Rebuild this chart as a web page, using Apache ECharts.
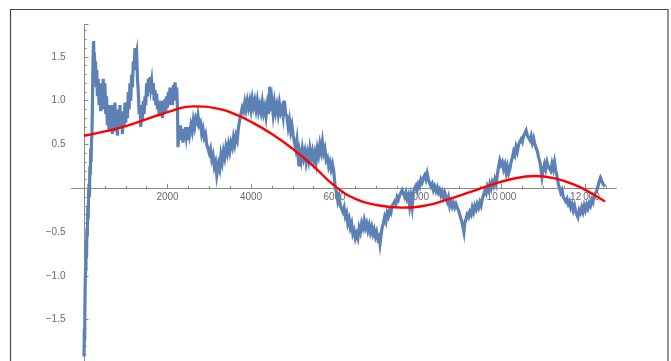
<!DOCTYPE html>
<html>
<head>
<meta charset="utf-8">
<title>fit</title>
<script src="https://cdn.jsdelivr.net/npm/echarts@6/dist/echarts.min.js"></script>
<style>
  html, body { margin: 0; padding: 0; background: #fff; }
  #chart { width: 671px; height: 361px; }
</style>
</head>
<body>
<div id="chart"></div>
<script>
// measured data (blue points)
var blueX = [0, 8, 15, 22, 30, 38, 45, 52, 60, 70, 80, 90, 100, 110, 120, 130, 140, 150, 160, 170, 180, 190, 200, 210, 220, 230, 240, 250, 260, 275, 290, 305, 320, 340, 360, 380, 400, 420, 440, 460, 480, 500, 520, 540, 560, 580, 600, 620, 640, 660, 680, 700, 720, 740, 760, 780, 800, 820, 840, 860, 880, 900, 920, 940, 960, 980, 1000, 1020, 1040, 1060, 1080, 1100, 1120, 1140, 1160, 1180, 1200, 1220, 1240, 1260, 1280, 1300, 1320, 1340, 1360, 1380, 1400, 1420, 1440, 1460, 1480, 1500, 1520, 1540, 1560, 1580, 1600, 1620, 1640, 1660, 1680, 1700, 1720, 1740, 1760, 1780, 1800, 1820, 1840, 1860, 1880, 1900, 1920, 1940, 1960, 1980, 2000, 2020, 2040, 2060, 2080, 2100, 2120, 2140, 2160, 2180, 2200, 2220, 2240, 2250, 2270, 2290, 2310, 2330, 2350, 2370, 2390, 2410, 2430, 2450, 2470, 2490, 2510, 2530, 2560, 2590, 2620, 2650, 2680, 2710, 2730, 2760, 2790, 2820, 2850, 2880, 2910, 2940, 2970, 3000, 3030, 3060, 3090, 3120, 3150, 3180, 3200, 3220, 3250, 3280, 3310, 3340, 3370, 3400, 3430, 3460, 3490, 3520, 3550, 3580, 3610, 3640, 3670, 3700, 3730, 3760, 3790, 3820, 3850, 3880, 3910, 3940, 3970, 4000, 4030, 4060, 4090, 4120, 4150, 4180, 4210, 4240, 4270, 4300, 4330, 4360, 4390, 4420, 4450, 4470, 4500, 4530, 4560, 4590, 4620, 4650, 4680, 4710, 4740, 4770, 4800, 4830, 4860, 4890, 4920, 4950, 4980, 5010, 5040, 5070, 5100, 5130, 5150, 5170, 5200, 5230, 5260, 5290, 5320, 5350, 5380, 5410, 5440, 5470, 5500, 5530, 5560, 5590, 5620, 5650, 5680, 5710, 5740, 5770, 5800, 5830, 5860, 5890, 5920, 5950, 5980, 6000, 6020, 6050, 6080, 6110, 6140, 6170, 6200, 6230, 6260, 6290, 6320, 6350, 6380, 6410, 6440, 6470, 6500, 6530, 6560, 6590, 6620, 6650, 6680, 6710, 6740, 6770, 6800, 6830, 6860, 6890, 6920, 6950, 6980, 7010, 7040, 7070, 7090, 7110, 7140, 7170, 7200, 7230, 7260, 7290, 7320, 7350, 7380, 7410, 7440, 7470, 7500, 7530, 7560, 7590, 7620, 7650, 7680, 7710, 7740, 7770, 7800, 7830, 7860, 7890, 7920, 7950, 7980, 8010, 8040, 8070, 8100, 8130, 8160, 8190, 8220, 8250, 8280, 8310, 8340, 8370, 8400, 8430, 8460, 8490, 8520, 8550, 8580, 8610, 8640, 8670, 8700, 8730, 8760, 8790, 8820, 8850, 8880, 8910, 8940, 8970, 9000, 9030, 9060, 9080, 9100, 9120, 9150, 9180, 9210, 9240, 9270, 9300, 9330, 9360, 9390, 9420, 9450, 9480, 9510, 9540, 9570, 9600, 9630, 9660, 9690, 9720, 9750, 9780, 9810, 9840, 9870, 9900, 9930, 9960, 9990, 10020, 10050, 10080, 10110, 10140, 10170, 10200, 10230, 10260, 10290, 10320, 10350, 10380, 10410, 10440, 10470, 10500, 10530, 10560, 10590, 10620, 10650, 10680, 10710, 10740, 10770, 10800, 10830, 10860, 10890, 10920, 10950, 10970, 11000, 11030, 11060, 11090, 11120, 11150, 11180, 11210, 11240, 11270, 11300, 11330, 11360, 11390, 11420, 11450, 11480, 11510, 11540, 11570, 11600, 11630, 11660, 11690, 11720, 11750, 11780, 11810, 11830, 11860, 11890, 11920, 11950, 11980, 12010, 12040, 12070, 12100, 12130, 12160, 12190, 12220, 12250, 12280, 12310, 12340, 12370, 12400, 12430, 12460, 12480];
var blueY = [-1.92, -1.6, -1.75, -1.3, -1.05, -0.9, -0.95, -0.6, -0.8, -0.45, -0.55, -0.2, -0.35, -0.05, 0.05, -0.1, 0.25, 0.15, 0.45, 0.3, 0.55, 0.62, 0.9, 1.3, 1.55, 1.68, 1.4, 1.55, 1.2, 1.45, 1.15, 1.35, 1.05, 1.25, 0.95, 1.15, 0.88, 1.2, 0.9, 1.25, 0.95, 1.2, 0.85, 1.05, 0.72, 0.95, 0.65, 0.9, 0.7, 0.95, 0.62, 0.85, 0.65, 0.98, 0.7, 0.9, 0.6, 0.85, 0.68, 0.95, 0.72, 0.88, 0.62, 0.85, 0.7, 0.98, 0.75, 0.95, 0.8, 1.1, 0.9, 1.2, 1.0, 1.3, 1.15, 1.45, 1.35, 1.6, 1.5, 1.55, 1.25, 1.1, 0.85, 0.95, 0.7, 0.9, 0.78, 1.0, 0.85, 1.05, 0.95, 1.2, 1.05, 1.25, 1.1, 1.27, 1.15, 1.22, 1.08, 1.2, 1.0, 1.12, 0.95, 1.08, 0.9, 1.0, 0.82, 0.98, 0.85, 1.0, 0.8, 0.95, 0.85, 1.02, 0.88, 1.05, 0.92, 1.1, 0.95, 1.15, 0.98, 1.12, 0.95, 1.18, 1.0, 1.21, 1.05, 1.15, 0.9, 0.47, 0.65, 0.55, 0.72, 0.58, 0.68, 0.52, 0.65, 0.55, 0.7, 0.6, 0.68, 0.55, 0.7, 0.62, 0.72, 0.65, 0.78, 0.7, 0.8, 0.76, 0.83, 0.72, 0.75, 0.62, 0.68, 0.58, 0.62, 0.5, 0.52, 0.4, 0.45, 0.33, 0.38, 0.25, 0.3, 0.15, 0.13, 0.28, 0.22, 0.38, 0.3, 0.42, 0.35, 0.47, 0.4, 0.5, 0.42, 0.52, 0.47, 0.58, 0.5, 0.6, 0.55, 0.7, 0.78, 0.85, 0.92, 0.88, 0.98, 0.9, 1.0, 0.92, 1.0, 0.9, 1.02, 0.93, 1.0, 0.9, 1.0, 0.88, 0.95, 0.87, 0.98, 0.86, 0.93, 0.82, 0.95, 0.85, 1.16, 0.88, 1.0, 0.85, 0.98, 0.87, 0.95, 0.85, 0.97, 0.87, 0.92, 0.82, 1.0, 0.85, 0.82, 0.7, 0.78, 0.65, 0.72, 0.6, 0.62, 0.45, 0.55, 0.35, 0.25, 0.4, 0.32, 0.45, 0.35, 0.42, 0.3, 0.4, 0.32, 0.45, 0.35, 0.42, 0.32, 0.4, 0.3, 0.45, 0.38, 0.5, 0.42, 0.53, 0.4, 0.45, 0.32, 0.35, 0.25, 0.3, 0.22, 0.28, 0.2, 0.1, 0.0, -0.05, -0.15, -0.1, -0.2, -0.18, -0.27, -0.22, -0.32, -0.28, -0.4, -0.35, -0.45, -0.4, -0.52, -0.48, -0.57, -0.52, -0.57, -0.45, -0.5, -0.4, -0.45, -0.37, -0.45, -0.4, -0.48, -0.42, -0.5, -0.44, -0.52, -0.47, -0.55, -0.5, -0.58, -0.55, -0.63, -0.55, -0.45, -0.4, -0.33, -0.38, -0.28, -0.32, -0.25, -0.28, -0.2, -0.22, -0.15, -0.18, -0.1, -0.13, -0.08, -0.1, -0.02, -0.06, -0.1, -0.05, -0.12, -0.08, -0.2, -0.1, -0.21, -0.05, 0.0, 0.03, -0.02, 0.05, 0.02, 0.1, 0.07, 0.12, 0.15, 0.1, 0.17, 0.1, 0.08, 0.02, 0.05, -0.02, 0.02, -0.03, 0.01, -0.05, -0.02, -0.08, -0.04, -0.1, -0.05, -0.1, -0.15, -0.1, -0.2, -0.15, -0.21, -0.17, -0.22, -0.18, -0.22, -0.25, -0.3, -0.35, -0.4, -0.45, -0.5, -0.4, -0.35, -0.3, -0.33, -0.27, -0.3, -0.22, -0.27, -0.2, -0.24, -0.18, -0.22, -0.16, -0.2, -0.12, -0.1, -0.03, -0.06, 0.02, -0.02, 0.05, 0.0, 0.07, 0.03, 0.1, 0.05, 0.15, 0.25, 0.32, 0.27, 0.3, 0.22, 0.27, 0.18, 0.25, 0.17, 0.22, 0.3, 0.35, 0.42, 0.38, 0.47, 0.42, 0.5, 0.48, 0.56, 0.53, 0.6, 0.58, 0.66, 0.6, 0.62, 0.55, 0.6, 0.52, 0.57, 0.5, 0.52, 0.42, 0.35, 0.3, 0.2, 0.13, 0.22, 0.28, 0.22, 0.3, 0.25, 0.27, 0.2, 0.28, 0.22, 0.3, 0.2, 0.14, 0.05, 0.0, -0.05, -0.02, -0.1, -0.08, -0.15, -0.12, -0.18, -0.15, -0.22, -0.18, -0.25, -0.2, -0.27, -0.25, -0.33, -0.25, -0.28, -0.22, -0.27, -0.2, -0.25, -0.19, -0.23, -0.17, -0.2, -0.13, -0.16, -0.08, -0.1, -0.03, 0.02, 0.08, 0.12, 0.1, 0.05, 0.07, 0.02];

// fitted curve (red)
var redX = [0, 500, 1000, 1500, 2000, 2600, 3200, 3600, 4000, 4500, 5000, 5500, 6000, 6500, 7000, 7600, 8200, 8700, 9200, 9700, 10200, 10800, 11300, 11800, 12200, 12480];
var redY = [0.60, 0.65, 0.71, 0.79, 0.87, 0.935, 0.91, 0.85, 0.76, 0.62, 0.45, 0.25, 0.03, -0.12, -0.19, -0.22, -0.195, -0.13, -0.05, 0.03, 0.10, 0.14, 0.11, 0.03, -0.07, -0.15];

// axis ticks
var xMajorTicks = [2000, 4000, 6000, 8000, 10000, 12000];
var xMajorLabels = ['2000', '4000', '6000', '8000', '10\u2009000', '12\u2009000'];
var xMinorTicks = [500, 1000, 1500, 2500, 3000, 3500, 4500, 5000, 5500, 6500, 7000, 7500, 8500, 9000, 9500, 10500, 11000, 11500, 12500];

var blueData = blueX.map(function (x, i) { return [x, blueY[i]] })
var redData = redX.map(function (x, i) { return [x, redY[i]] })

var axisColor = '#8a8a8a'
var labelStyle = { color: '#6b6b6b', fontSize: 10, fontFamily: 'Liberation Sans, Arial, sans-serif' }

// grid: y = 0 sits 175.2px above the grid bottom
var gridBottom = -2.5
var zeroOffset = -175.2

var chart = echarts.init(document.getElementById('chart'))
chart.setOption({
  animation: false,
  backgroundColor: '#fff',
  grid: {
    left: 71.5,
    right: 54.7,
    top: 24.5,
    bottom: gridBottom,
    outerBoundsMode: 'none'
  },
  graphic: [{
    type: 'rect',
    silent: true,
    shape: { x: 10.5, y: 9.5, width: 657.5, height: 400 },
    style: { fill: null, stroke: '#4a4a4a', lineWidth: 1.2 }
  }],
  xAxis: [
    {
      type: 'value',
      min: -300,
      max: 12750,
      position: 'bottom',
      axisLine: { onZero: true, lineStyle: { color: axisColor, width: 1 } },
      axisTick: { inside: true, length: 2.5, customValues: xMinorTicks, lineStyle: { color: axisColor } },
      axisLabel: { show: false },
      splitLine: { show: false }
    },
    {
      type: 'value',
      min: -300,
      max: 12750,
      position: 'bottom',
      offset: zeroOffset,
      axisLine: { show: false, onZero: false },
      axisTick: { inside: true, length: 4.5, customValues: xMajorTicks, lineStyle: { color: axisColor } },
      axisLabel: Object.assign({
        customValues: xMajorTicks,
        margin: 4,
        formatter: function (v) { return xMajorLabels[xMajorTicks.indexOf(v)] }
      }, labelStyle),
      splitLine: { show: false }
    }
  ],
  yAxis: {
    type: 'value',
    min: -2,
    max: 1.87,
    interval: 0.5,
    axisLine: { onZero: true, lineStyle: { color: axisColor, width: 1 } },
    axisTick: { inside: true, length: 4.5, lineStyle: { color: axisColor } },
    minorTick: { show: true, splitNumber: 5, length: 2.5, lineStyle: { color: axisColor } },
    axisLabel: Object.assign({
      margin: 6,
      formatter: function (v) {
        if (Math.abs(v) < 1e-9 || v <= -1.99 || v > 1.6) return ''
        return (v < 0 ? '\u2212' : '') + Math.abs(v).toFixed(1)
      }
    }, labelStyle),
    splitLine: { show: false }
  },
  series: [
    {
      name: 'data',
      type: 'line',
      data: blueData,
      symbol: 'none',
      lineStyle: { color: '#5E81B5', width: 3.2, join: 'miter' },
      z: 3
    },
    {
      name: 'fit',
      type: 'line',
      data: redData,
      smooth: 0.5,
      symbol: 'none',
      lineStyle: { color: '#ff0000', width: 2.4 },
      z: 4
    }
  ]
})
</script>
</body>
</html>
